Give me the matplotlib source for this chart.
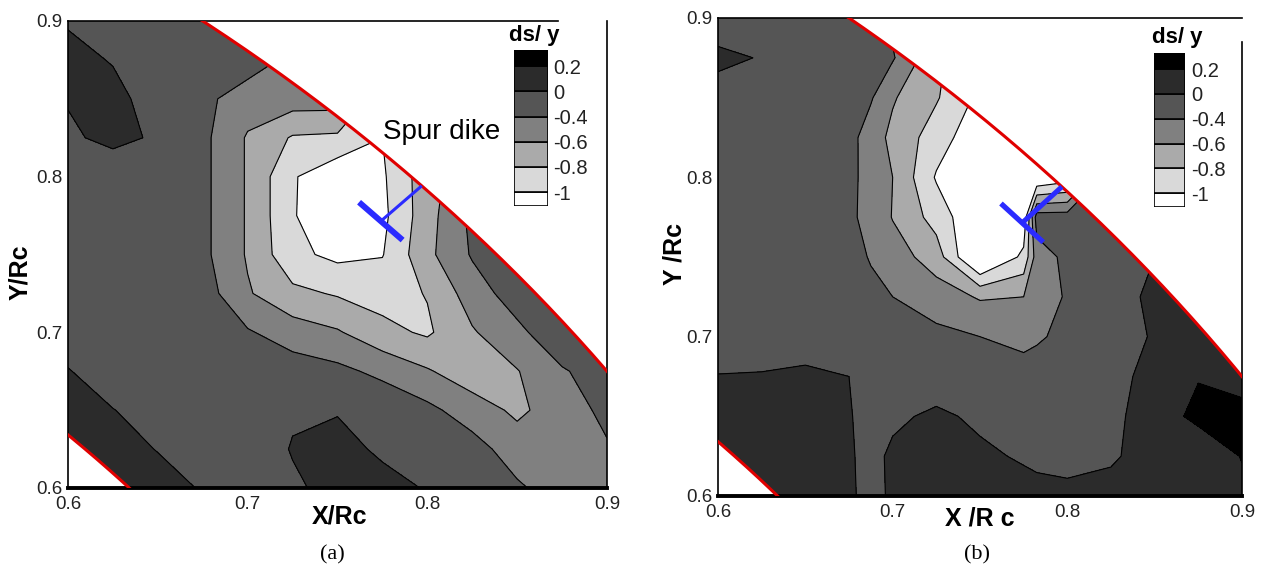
import numpy as np
import matplotlib
matplotlib.use("Agg")
import matplotlib.pyplot as plt
from matplotlib.patches import Wedge

plt.rcParams['font.family'] = ['Liberation Sans', 'DejaVu Sans']

# sample grids (X/Rc across, Y/Rc down: first row is Y/Rc = 0.9)
x_grid_a = [0.6, 0.625, 0.65, 0.675, 0.7, 0.725, 0.75, 0.775, 0.8, 0.825, 0.85, 0.875, 0.9]
x_grid_b = [0.6, 0.625, 0.65, 0.675, 0.6875, 0.7, 0.725, 0.75, 0.775, 0.7825, 0.8, 0.825,
            0.85, 0.875, 0.9]
y_grid = [0.9, 0.875, 0.85, 0.825, 0.8, 0.775, 0.75, 0.725, 0.7, 0.675, 0.65, 0.625, 0.6]

# ds/y
ds_a = [
    [-0.03, -0.15, -0.20, -0.20, -0.30, -0.45, -0.70, -0.90, -0.90, -0.70, -0.50, -0.30, -0.30],
    [0.10, -0.02, -0.20, -0.25, -0.30, -0.45, -0.60, -0.90, -0.90, -0.70, -0.50, -0.30, -0.30],
    [0.02, 0.10, -0.15, -0.35, -0.50, -0.50, -0.50, -0.95, -0.85, -0.60, -0.40, -0.30, -0.30],
    [-0.05, 0.08, -0.04, -0.35, -0.62, -0.82, -0.84, -1.00, -0.75, -0.50, -0.35, -0.30, -0.30],
    [-0.20, -0.20, -0.20, -0.35, -0.62, -0.98, -1.15, -1.03, -0.68, -0.45, -0.30, -0.30, -0.30],
    [-0.20, -0.20, -0.20, -0.35, -0.62, -0.98, -1.20, -1.05, -0.68, -0.35, -0.30, -0.30, -0.30],
    [-0.20, -0.20, -0.20, -0.35, -0.62, -0.95, -1.05, -1.01, -0.65, -0.38, -0.25, -0.30, -0.30],
    [-0.20, -0.20, -0.20, -0.30, -0.58, -0.75, -0.82, -0.88, -0.79, -0.50, -0.30, -0.30, -0.30],
    [-0.20, -0.20, -0.20, -0.25, -0.38, -0.50, -0.58, -0.74, -0.83, -0.62, -0.45, -0.25, -0.25],
    [0.02, -0.20, -0.20, -0.20, -0.25, -0.30, -0.35, -0.45, -0.58, -0.72, -0.61, -0.42, -0.30],
    [0.10, 0.01, -0.15, -0.20, -0.20, -0.04, -0.02, -0.25, -0.35, -0.50, -0.64, -0.50, -0.35],
    [0.10, 0.10, -0.01, -0.20, -0.20, 0.02, 0.10, -0.05, -0.20, -0.32, -0.50, -0.48, -0.42],
    [0.10, 0.10, 0.10, -0.02, -0.20, -0.05, 0.10, 0.10, -0.02, -0.25, -0.37, -0.50, -0.50],
]

# ds/y
ds_b = [
    [-0.20, -0.20, -0.20, -0.20, -0.25, -0.45, -0.75, -1.00, -1.20, -1.20, -1.20, -1.20, -0.30, -0.30, -0.30],
    [0.08, -0.02, -0.20, -0.20, -0.28, -0.38, -0.75, -1.00, -1.20, -1.20, -1.20, -1.20, -0.30, -0.20, -0.10],
    [-0.15, -0.20, -0.20, -0.30, -0.38, -0.58, -0.78, -1.05, -1.20, -1.20, -1.20, -0.50, -0.30, -0.10, 0.00],
    [-0.20, -0.20, -0.20, -0.33, -0.50, -0.65, -0.90, -1.15, -1.20, -1.20, -1.20, -0.30, -0.20, -0.10, 0.00],
    [-0.20, -0.20, -0.20, -0.35, -0.47, -0.60, -1.02, -1.20, -1.20, -1.20, -1.10, -0.20, -0.10, 0.00, 0.05],
    [-0.20, -0.20, -0.20, -0.37, -0.45, -0.61, -0.88, -1.20, -1.15, -0.30, -0.30, -0.20, -0.05, 0.05, 0.10],
    [-0.20, -0.20, -0.20, -0.30, -0.42, -0.50, -0.70, -1.30, -0.95, -0.50, -0.35, -0.20, 0.00, 0.10, 0.10],
    [-0.20, -0.20, -0.20, -0.25, -0.33, -0.40, -0.50, -0.62, -0.60, -0.50, -0.38, -0.10, 0.05, 0.10, 0.10],
    [-0.15, -0.15, -0.20, -0.20, -0.25, -0.30, -0.35, -0.40, -0.50, -0.45, -0.30, -0.15, 0.03, 0.10, 0.10],
    [0.01, 0.02, 0.08, 0.00, -0.10, -0.10, -0.15, -0.20, -0.25, -0.22, -0.20, -0.10, 0.10, 0.19, 0.12],
    [0.10, 0.10, 0.10, 0.02, -0.10, -0.05, 0.05, -0.05, -0.15, -0.18, -0.20, -0.05, 0.10, 0.25, 0.27],
    [0.10, 0.10, 0.10, 0.03, -0.08, 0.05, 0.10, 0.05, -0.03, -0.07, -0.10, -0.03, 0.10, 0.05, 0.21],
    [0.10, 0.10, 0.10, 0.05, -0.10, 0.05, 0.10, 0.10, 0.10, 0.10, 0.08, 0.08, 0.10, 0.10, 0.15],
]

levels = [-3, -1, -0.8, -0.6, -0.4, 0, 0.2, 3]
band_colors = ['#ffffff', '#d9d9d9', '#aaaaaa', '#808080', '#555555', '#2b2b2b', '#000000']
legend_labels = ['-1', '-0.8', '-0.6', '-0.4', '0', '0.2']

# channel geometry (radii in Rc) and spur dike
r_inner, r_outer = 0.873, 1.125
dike_theta = 44.9
dike_r_head = 1.093
dike_half_span = 0.9

tick_vals = [0.6, 0.7, 0.8, 0.9]
tick_text = ['0.6', '0.7', '0.8', '0.9']
W, H = 1261, 574


def draw_panel(ax, xg, ds, stem_lw, head_lw):
    z = np.array(ds)
    clip = Wedge((0, 0), r_outer, 20, 70, width=r_outer - r_inner,
                 transform=ax.transData, facecolor='none', edgecolor='none')
    ax.add_patch(clip)
    cf = ax.contourf(xg, y_grid, z, levels=levels, colors=band_colors)
    cl = ax.contour(xg, y_grid, z, levels=levels[1:-1], colors='black',
                    linewidths=0.8, linestyles='solid')
    cf.set_clip_path(clip)
    cl.set_clip_path(clip)

    th = np.radians(np.linspace(20, 70, 300))
    for r in (r_inner, r_outer):
        ax.plot(r * np.cos(th), r * np.sin(th), color='#e00000', lw=2.2, zorder=4)

    t0 = np.radians(dike_theta)
    ax.plot([r_outer * np.cos(t0), dike_r_head * np.cos(t0)],
            [r_outer * np.sin(t0), dike_r_head * np.sin(t0)],
            color='#2b2bff', lw=stem_lw, solid_capstyle='butt', zorder=5)
    th_head = np.radians([dike_theta - dike_half_span, dike_theta + dike_half_span])
    ax.plot(dike_r_head * np.cos(th_head), dike_r_head * np.sin(th_head),
            color='#2b2bff', lw=head_lw, solid_capstyle='butt', zorder=5)

    ax.set_xlim(0.6, 0.9)
    ax.set_ylim(0.6, 0.9)
    ax.set_xticks(tick_vals)
    ax.set_xticklabels(tick_text)
    ax.set_yticks(tick_vals)
    ax.set_yticklabels(tick_text)
    ax.tick_params(length=0, labelsize=13.5, labelcolor='#222222')
    ax.tick_params(axis='x', pad=5.5)
    ax.tick_params(axis='y', pad=4)
    ax.spines['bottom'].set_linewidth(2.8)
    for s in ('left', 'top', 'right'):
        ax.spines[s].set_linewidth(1.2)


def draw_legend(ax, rect, title_xy):
    lax = ax.inset_axes(rect)
    bottoms = [0, 0.55, 1.55, 2.55, 3.55, 4.55, 5.55]
    heights = [0.55, 1, 1, 1, 1, 1, 0.65]
    lax.bar([0] * 7, heights, bottom=bottoms, width=1, color=band_colors,
            edgecolor='black', linewidth=1.2)
    lax.set_xlim(-0.5, 0.5)
    lax.set_ylim(0, 6.2)
    lax.set_xticks([])
    lax.set_yticks(bottoms[1:])
    lax.set_yticklabels(legend_labels)
    lax.yaxis.tick_right()
    lax.tick_params(length=0, labelsize=14.5, pad=4, labelcolor='#222222')
    for s in lax.spines.values():
        s.set_visible(False)
    ax.text(title_xy[0], title_xy[1], 'ds/ y', transform=ax.transAxes,
            ha='center', va='center', fontsize=16, fontweight='bold')


fig = plt.figure(figsize=(W / 100, H / 100), dpi=100)
ax_a = fig.add_axes([68 / W, 1 - 488 / H, 539 / W, 467 / H])
ax_b = fig.add_axes([718 / W, 1 - 496 / H, 524 / W, 478 / H])

draw_panel(ax_a, x_grid_a, ds_a, 2.2, 4.3)
draw_panel(ax_b, x_grid_b, ds_b, 3.6, 3.8)

ax_a.spines['top'].set_bounds(0.6, 0.873)
ax_b.spines['right'].set_bounds(0.6, 0.885)

draw_legend(ax_a, [0.8275, 0.604, 0.063, 0.334], (0.8646, 0.968))
draw_legend(ax_b, [0.832, 0.605, 0.06, 0.322], (0.876, 0.960))

ax_a.text(0.808, 0.8287, 'Spur dike', ha='center', va='center', fontsize=20)

fig.text(340 / W, 1 - 516 / H, 'X/Rc', ha='center', va='center', fontsize=18, fontweight='bold')
fig.text(20 / W, 1 - 272 / H, 'Y/Rc', ha='center', va='center', rotation=90,
         fontsize=18, fontweight='bold')
fig.text(980 / W, 1 - 519 / H, 'X /R c', ha='center', va='center', fontsize=18, fontweight='bold')
fig.text(674 / W, 1 - 254 / H, 'Y /Rc', ha='center', va='center', rotation=90,
         fontsize=18, fontweight='bold')

fig.text(332 / W, 1 - 555 / H, '(a)', ha='center', va='center', fontsize=16,
         family=['Liberation Serif', 'DejaVu Serif'])
fig.text(977 / W, 1 - 555 / H, '(b)', ha='center', va='center', fontsize=16,
         family=['Liberation Serif', 'DejaVu Serif'])

fig.savefig('out.png', dpi=100)
